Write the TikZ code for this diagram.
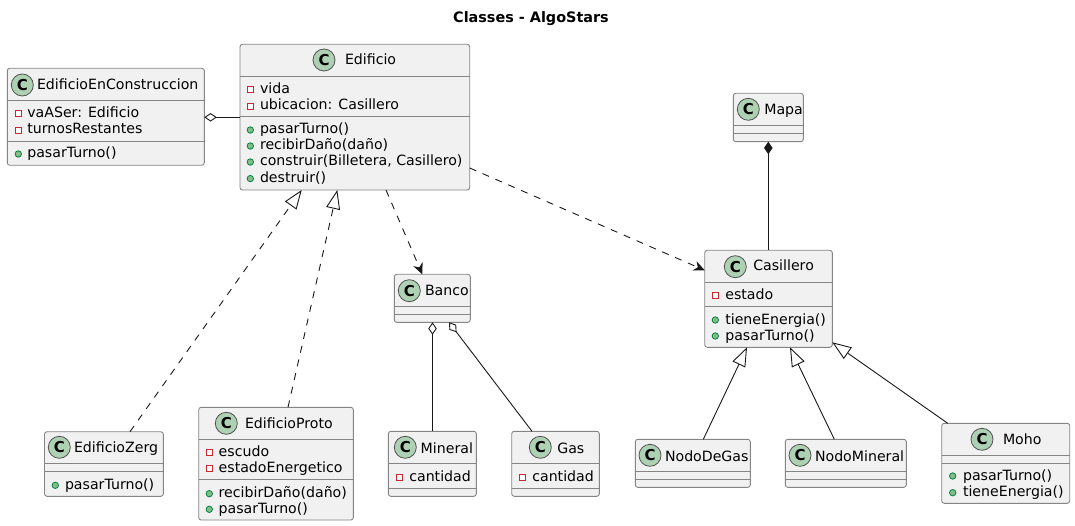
\documentclass[tikz,border=0pt]{standalone}
\usepackage{fontspec}
\setmainfont{DejaVu Sans}
\usetikzlibrary{arrows.meta}
\definecolor{umlline}{HTML}{181818}
\definecolor{umlborder}{HTML}{858585}
\definecolor{umlbg}{HTML}{F1F1F1}
\definecolor{umlspot}{HTML}{ADD1B2}
\definecolor{privred}{HTML}{C82930}
\definecolor{pubfill}{HTML}{84BE84}
\definecolor{publine}{HTML}{038048}
\tikzset{
  umlbox/.style={draw=umlborder, fill=umlbg, line width=0.9pt, rounded corners=2.5pt, inner sep=0pt, outer sep=0pt},
  umlsep/.style={draw=umlborder, line width=0.9pt},
  spot/.style={circle, draw=umlline!75, fill=umlspot, line width=0.8pt, minimum size=22pt, inner sep=0pt, font=\fontsize{15}{15}\selectfont\bfseries},
  txt/.style={anchor=base west, inner sep=0pt, outer sep=0pt, font=\fontsize{14.15}{14.15}\selectfont, text=black},
  privicon/.style={rectangle, draw=privred, fill=white, line width=0.9pt, minimum size=6pt, inner sep=0pt},
  pubicon/.style={circle, draw=publine, fill=pubfill, line width=0.8pt, minimum size=6.4pt, inner sep=0pt},
  edge/.style={draw=umlline, line width=0.9pt},
  assoc/.style={edge},
  aggreg/.style={edge, {Diamond[open, fill=white, length=12.5pt, width=8.5pt, line width=0.9pt]}-},
  compos/.style={edge, {Diamond[length=12.5pt, width=8.5pt]}-},
  inherit/.style={edge, -{Triangle[open, fill=white, length=19pt, width=14pt, line width=0.9pt]}},
  realize/.style={inherit, dash pattern=on 7pt off 7pt},
  depend/.style={edge, dash pattern=on 7pt off 7pt, -{Stealth[length=11pt, width=10pt, inset=3.5pt]}},
}
% name, left, top, right, bottom, sep1, sep2
\newcommand{\umlclass}[7]{%
  \pgfmathsetmacro{\cxx}{(#2+#4)/2}\pgfmathsetmacro{\cyy}{(#3+#5)/2}%
  \pgfmathsetmacro{\ww}{#4-#2}\pgfmathsetmacro{\hh}{#5-#3}%
  \node[umlbox, minimum width=\ww pt, minimum height=\hh pt] (#1) at (\cxx,\cyy) {};
  \draw[umlsep] (#2,#6) -- (#4,#6);
  \draw[umlsep] (#2,#7) -- (#4,#7);
}
% name, spot x, spot y, title x, title baseline, title
\newcommand{\umlhead}[6]{%
  \node[spot] (#1-spot) at (#2,#3) {C};
  \node[txt] (#1-title) at (#4,#5) {#6};
}
% id, style, icon x, text x, baseline, text
\newcommand{\umlmem}[6]{%
  \pgfmathsetmacro{\iyy}{#5-4}%
  \node[#2] (#1-icon) at (#3,\iyy) {};
  \node[txt] (#1) at (#4,#5) {#6};
}
\begin{document}
\begin{tikzpicture}[x=1pt,y=-1pt]
\useasboundingbox[fill=white] (0,0) rectangle (1075,526);
\node[anchor=base, inner sep=0pt, font=\fontsize{14.4}{14.4}\selectfont\bfseries] (title) at (531,23) {Classes - AlgoStars};

\umlclass{eec}{7.3}{68.3}{204.3}{165.3}{100.3}{141.3}
\umlhead{eec}{22.3}{85}{37}{90}{EdificioEnConstruccion}
\umlmem{eec-a}{privicon}{18.3}{27.3}{117.3}{vaASer: Edificio}
\umlmem{eec-b}{privicon}{18.3}{27.3}{134}{turnosRestantes}
\umlmem{eec-c}{pubicon}{18.3}{27.3}{158}{pasarTurno()}

\umlclass{edif}{240}{44.3}{469.7}{190}{76.3}{116.3}
\umlhead{edif}{324}{60}{345}{65}{Edificio}
\umlmem{edif-a}{privicon}{250.3}{260}{93.3}{vida}
\umlmem{edif-b}{privicon}{250.3}{260}{110}{ubicacion: Casillero}
\umlmem{edif-c}{pubicon}{250.3}{260}{134}{pasarTurno()}
\umlmem{edif-d}{pubicon}{250.3}{260}{150}{recibirDaño(daño)}
\umlmem{edif-e}{pubicon}{250.3}{260}{166}{construir(Billetera, Casillero)}
\umlmem{edif-f}{pubicon}{250.3}{260}{182.6}{destruir()}

\umlclass{mapa}{733.3}{93.3}{803.3}{141.7}{125.3}{133.3}
\umlhead{mapa}{748.3}{109.3}{764.3}{114.3}{Mapa}

\umlclass{cas}{704.7}{250.3}{832.3}{347.3}{282.3}{306.3}
\umlhead{cas}{735.3}{266.7}{753.3}{271}{Casillero}
\umlmem{cas-a}{privicon}{715.3}{725.3}{299}{estado}
\umlmem{cas-b}{pubicon}{715.3}{725.3}{324}{tieneEnergia()}
\umlmem{cas-c}{pubicon}{715.3}{725.3}{340}{pasarTurno()}

\umlclass{banco}{394.3}{274.3}{470.3}{322.3}{306.3}{314.3}
\umlhead{banco}{409.3}{290.7}{425}{296}{Banco}

\umlclass{zerg}{44.5}{431.7}{163.3}{496.3}{463.3}{471.3}
\umlhead{zerg}{59.3}{447.3}{74}{452.7}{EdificioZerg}
\umlmem{zerg-a}{pubicon}{55.3}{65}{489.3}{pasarTurno()}

\umlclass{proto}{198.7}{407.3}{353.3}{520}{439.3}{479.3}
\umlhead{proto}{226.3}{423.3}{245}{428.3}{EdificioProto}
\umlmem{proto-a}{privicon}{209.3}{218.7}{456}{escudo}
\umlmem{proto-b}{privicon}{209.3}{218.7}{472.7}{estadoEnergetico}
\umlmem{proto-c}{pubicon}{209.3}{218.7}{497.7}{recibirDaño(daño)}
\umlmem{proto-d}{pubicon}{209.3}{218.7}{513.3}{pasarTurno()}

\umlclass{mineral}{388.3}{431.3}{476.3}{496.3}{463.3}{488.3}
\umlhead{mineral}{405.3}{447.3}{420.7}{453.3}{Mineral}
\umlmem{mineral-a}{privicon}{399.3}{409.3}{481}{cantidad}

\umlclass{gas}{511.7}{431.3}{599.3}{496.3}{463.3}{488.3}
\umlhead{gas}{540.3}{447.3}{557.3}{453.3}{Gas}
\umlmem{gas-a}{privicon}{522.3}{532.3}{481}{cantidad}

\umlclass{ngas}{635.3}{439.3}{750.3}{487.3}{471.3}{479.3}
\umlhead{ngas}{650}{455.3}{665}{461}{NodoDeGas}

\umlclass{nmin}{785.3}{439.3}{906.3}{487.3}{471.3}{479.3}
\umlhead{nmin}{800}{455.3}{815}{461}{NodoMineral}

\umlclass{moho}{941.7}{423.3}{1069.7}{503.3}{455.3}{463.3}
\umlhead{moho}{982}{439.3}{1003}{444.3}{Moho}
\umlmem{moho-a}{pubicon}{952.7}{963}{480}{pasarTurno()}
\umlmem{moho-b}{pubicon}{952.7}{963}{496.7}{tieneEnergia()}

% connectors
\draw[aggreg] ([yshift=-49pt]eec.north east) -- ([yshift=-73pt]edif.north west);
\draw[depend] ([xshift=146pt]edif.south west) -- ([xshift=28pt]banco.north west);
\draw[depend] ([yshift=22pt]edif.south east) -- ([yshift=-20pt]cas.north west);
\draw[compos] (mapa.south) -- ([xshift=63.6pt]cas.north west);
\draw[realize] ([xshift=85.5pt]zerg.north west) -- ([xshift=61.7pt]edif.south west);
\draw[realize] ([xshift=89.3pt]proto.north west) -- ([xshift=97.3pt]edif.south west);
\draw[aggreg] ([xshift=38.2pt]banco.south west) -- ([xshift=44.2pt]mineral.north west);
\draw[aggreg] ([xshift=54.7pt]banco.south west) -- ([xshift=20.3pt]gas.north west);
\draw[inherit] ([xshift=68pt]ngas.north west) -- ([xshift=42.3pt]cas.south west);
\draw[inherit] ([xshift=49pt]nmin.north west) -- ([xshift=85.3pt]cas.south west);
\draw[inherit] ([xshift=6pt]moho.north west) -- ([yshift=5pt]cas.south east);
\end{tikzpicture}
\end{document}
